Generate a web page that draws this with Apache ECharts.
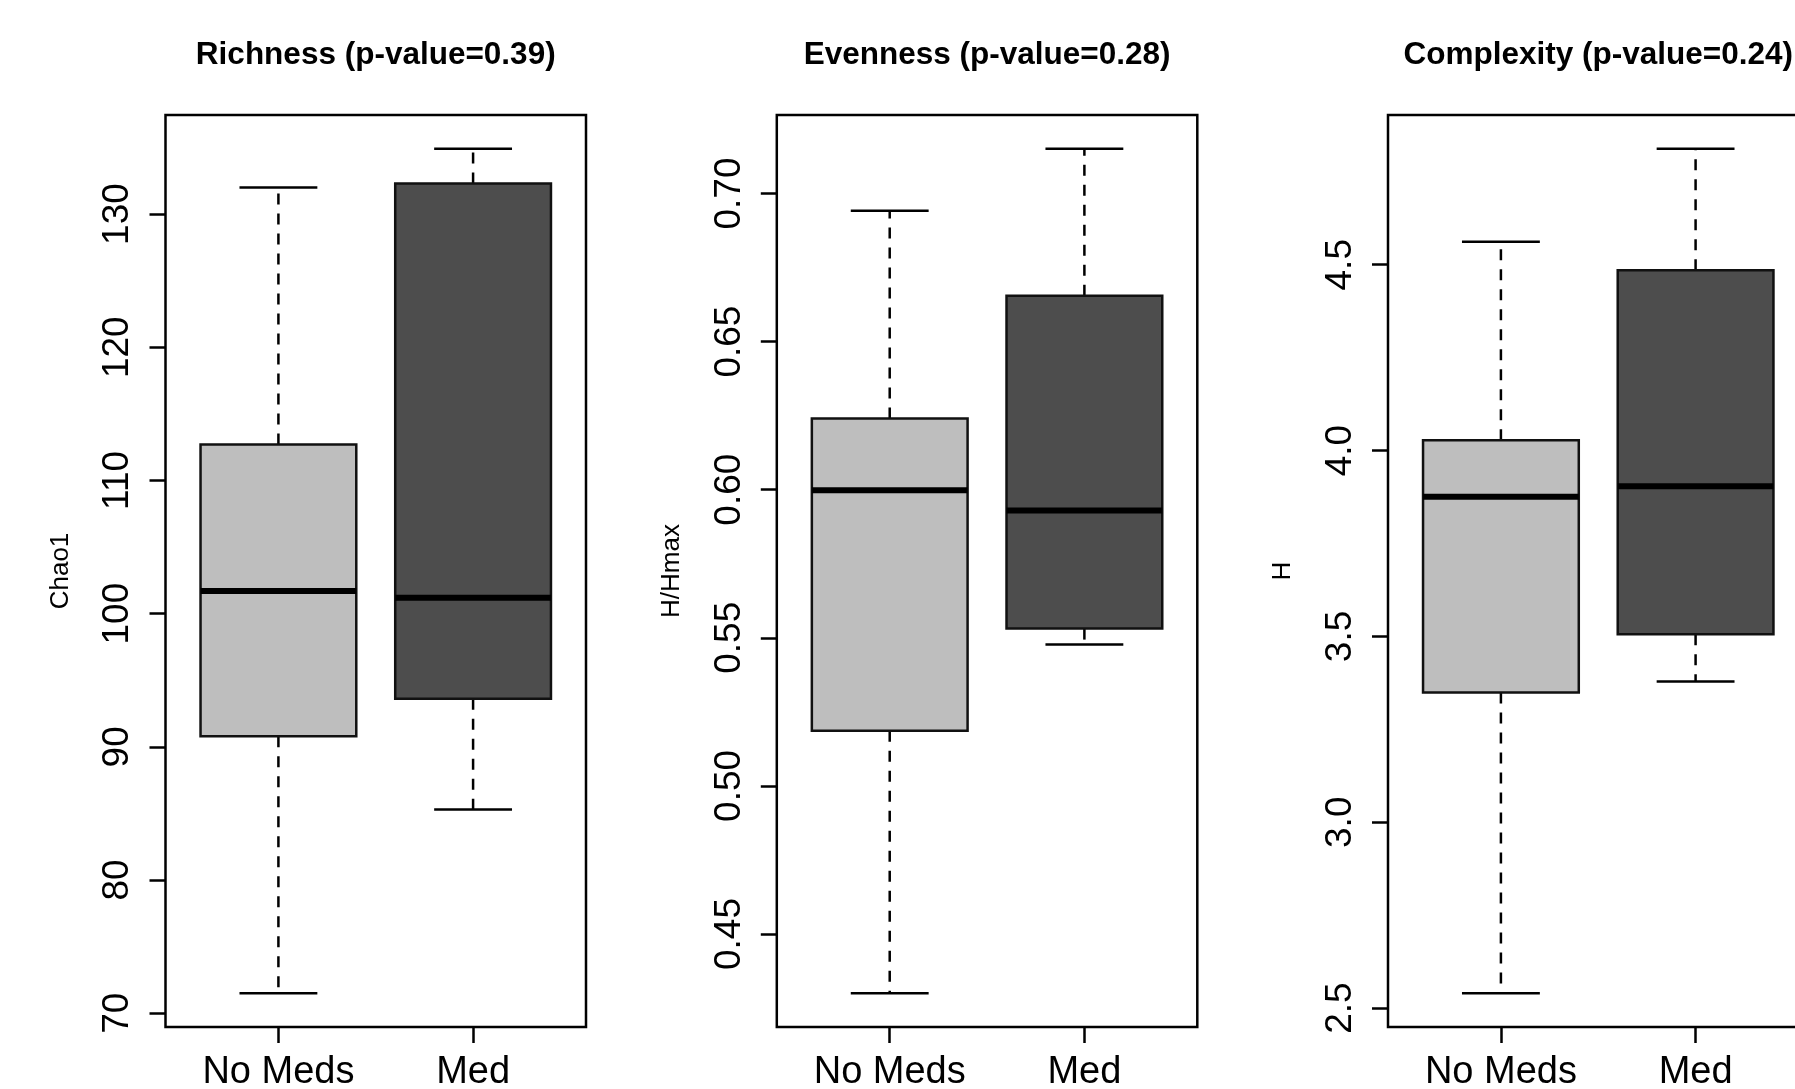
<!DOCTYPE html>
<html>
<head>
<meta charset="utf-8">
<script src="https://cdn.jsdelivr.net/npm/echarts@6/dist/echarts.min.js"></script>
<style>
  html, body { margin: 0; padding: 0; background: #ffffff; }
  #chart { width: 1795px; height: 1089px; }
</style>
</head>
<body>
<div id="chart"></div>
<script>
// Groups on the x axis and their box fills
const groups = ['No Meds', 'Med'];
const boxFill = ['#bebebe', '#4d4d4d'];

// Five-number summaries: [lower whisker, Q1, median, Q3, upper whisker]
const richnessNoMeds = [71.5, 90.8, 101.7, 112.7, 132.0];
const richnessMed = [85.3, 93.6, 101.2, 132.3, 134.9];
const evennessNoMeds = [0.430, 0.5186, 0.5998, 0.624, 0.6942];
const evennessMed = [0.5477, 0.5531, 0.593, 0.6655, 0.7151];
const complexityNoMeds = [2.540, 3.349, 3.876, 4.028, 4.562];
const complexityMed = [3.379, 3.506, 3.904, 4.485, 4.812];

// Y tick values per panel
const richnessTicks = [70, 80, 90, 100, 110, 120, 130];
const evennessTicks = [0.45, 0.50, 0.55, 0.60, 0.65, 0.70];
const complexityTicks = [2.5, 3.0, 3.5, 4.0, 4.5];

const panelTitles = ['Richness (p-value=0.39)', 'Evenness (p-value=0.28)', 'Complexity (p-value=0.24)'];
const yNames = ['Chao1', 'H/Hmax', 'H'];

const panels = [
  { stats: [richnessNoMeds, richnessMed], ticks: richnessTicks, digits: 0 },
  { stats: [evennessNoMeds, evennessMed], ticks: evennessTicks, digits: 2 },
  { stats: [complexityNoMeds, complexityMed], ticks: complexityTicks, digits: 1 }
];

// Panel frame geometry (pixels)
const frameLefts = [165.5, 776.8, 1388];
const frameWidth = 420.5;
const frameTop = 115;
const frameHeight = 912;

const FONT = 'Liberation Sans, Arial, Helvetica, sans-serif';
const BOX_WIDTH = 0.8;       // in x-axis units
const X_MIN = 0.42, X_MAX = 2.58;
const TITLE_PAD = 5;         // title component's default padding

// y range: data range padded by 4% on both sides
function paddedRange(stats) {
  const lo = Math.min(...stats.map(s => s[0]));
  const hi = Math.max(...stats.map(s => s[4]));
  const pad = (hi - lo) * 0.04;
  return [lo - pad, hi + pad];
}

function drawBox(params, api) {
  const x = api.value(0);
  const lo = api.value(1), q1 = api.value(2), md = api.value(3), q3 = api.value(4), hi = api.value(5);
  const half = api.size([BOX_WIDTH, 0], [x, md])[0] / 2;
  const staple = half / 2;
  const pLo = api.coord([x, lo]);
  const pQ1 = api.coord([x, q1]);
  const pMd = api.coord([x, md]);
  const pQ3 = api.coord([x, q3]);
  const pHi = api.coord([x, hi]);
  const cx = pMd[0];
  const lw = 2.5;
  const dashed = { stroke: '#000', lineWidth: lw, lineDash: [11, 9] };
  const solid = { stroke: '#000', lineWidth: lw };
  return {
    type: 'group',
    children: [
      { type: 'line', shape: { x1: cx, y1: pQ3[1], x2: cx, y2: pHi[1] }, style: dashed },
      { type: 'line', shape: { x1: cx, y1: pQ1[1], x2: cx, y2: pLo[1] }, style: dashed },
      { type: 'line', shape: { x1: cx - staple, y1: pHi[1], x2: cx + staple, y2: pHi[1] }, style: solid },
      { type: 'line', shape: { x1: cx - staple, y1: pLo[1], x2: cx + staple, y2: pLo[1] }, style: solid },
      {
        type: 'rect',
        shape: { x: cx - half, y: pQ3[1], width: 2 * half, height: pQ1[1] - pQ3[1] },
        style: { fill: boxFill[params.dataIndex], stroke: '#111', lineWidth: lw }
      },
      { type: 'line', shape: { x1: cx - half, y1: pMd[1], x2: cx + half, y2: pMd[1] }, style: { stroke: '#000', lineWidth: 6 } }
    ]
  };
}

const option = {
  backgroundColor: '#ffffff',
  animation: false,
  title: panelTitles.map((t, i) => ({
    text: t,
    left: frameLefts[i] + frameWidth / 2 - TITLE_PAD,
    top: 34.5,
    textAlign: 'center',
    textStyle: { fontFamily: FONT, fontWeight: 'bold', fontSize: 31.5, color: '#000' }
  })),
  grid: panels.map((p, i) => ({
    left: frameLefts[i],
    top: frameTop,
    width: frameWidth,
    height: frameHeight,
    show: true,
    borderColor: '#000',
    borderWidth: 2.5,
    backgroundColor: 'transparent',
    containLabel: false,
    outerBoundsMode: 'none'
  })),
  xAxis: panels.map((p, i) => ({
    type: 'value',
    gridIndex: i,
    min: X_MIN,
    max: X_MAX,
    splitLine: { show: false },
    axisLine: { show: false },
    axisTick: { show: true, customValues: [1, 2], length: 16, lineStyle: { color: '#000', width: 2.5 } },
    axisLabel: {
      customValues: [1, 2],
      formatter: v => groups[Math.round(v) - 1],
      margin: 27,
      fontFamily: FONT,
      fontSize: 38,
      color: '#000'
    }
  })),
  yAxis: panels.map((p, i) => {
    const r = paddedRange(p.stats);
    return {
      type: 'value',
      gridIndex: i,
      min: r[0],
      max: r[1],
      name: yNames[i],
      nameLocation: 'middle',
      nameRotate: 90,
      nameGap: 92,
      nameTextStyle: { fontFamily: FONT, fontSize: 26, color: '#000' },
      splitLine: { show: false },
      axisLine: { show: false },
      axisTick: { show: true, customValues: p.ticks, length: 16, lineStyle: { color: '#000', width: 2.5 } },
      axisLabel: {
        customValues: p.ticks,
        rotate: 90,
        margin: 29,
        formatter: v => v.toFixed(p.digits),
        fontFamily: FONT,
        fontSize: 37,
        color: '#000'
      }
    };
  }),
  series: panels.map((p, i) => ({
    type: 'custom',
    xAxisIndex: i,
    yAxisIndex: i,
    clip: false,
    renderItem: drawBox,
    encode: { x: 0, y: [1, 2, 3, 4, 5] },
    data: p.stats.map((s, k) => [k + 1].concat(s))
  }))
};

const chart = echarts.init(document.getElementById('chart'), null, { renderer: 'canvas' });
chart.setOption(option);
</script>
</body>
</html>
